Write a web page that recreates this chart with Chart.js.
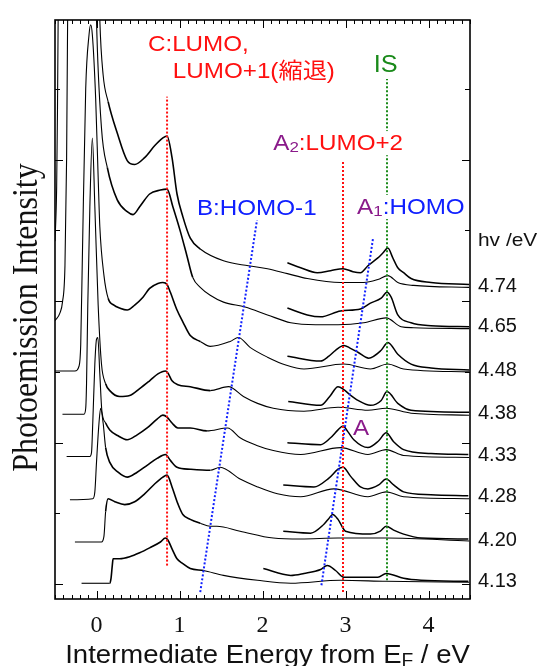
<!DOCTYPE html>
<html lang="ja">
<head>
<meta charset="UTF-8">
<title>2PPE spectra</title>
<style>
  html, body { margin: 0; padding: 0; background: #fff; }
</style>
</head>
<body>
<canvas id="spectra" width="546" height="666"></canvas>
<script src="https://cdn.jsdelivr.net/npm/chart.js@4/dist/chart.umd.min.js"></script>
<script>
// photon energies and the vertical offset each spectrum is stacked at (arb. units)
var hvLabels = ['4.13', '4.20', '4.28', '4.33', '4.38', '4.48', '4.65', '4.74'];
var offsets  = [18, 60, 104, 146, 189, 232, 277, 318];
var xTicks = [0, 1, 2, 3, 4];
var yTicks = [15, 87, 159, 231, 303, 375, 447, 519];

// spectra: [energy from E_F / eV, intensity above offset]
var main413 = [[-0.18,-2],[0.16,-2],[0.175,3],[0.19,16],[0.20,23],[0.28,23],[0.40,25],[0.52,29],[0.64,34],[0.77,40],[0.83,44],[0.86,42],[0.91,33],[0.97,23],[1.04,18],[1.13,13],[1.29,11],[1.53,6],[1.94,1],[2.34,-2],[2.94,1],[3.49,0],[4.49,-1]];
var main420 = [[-0.26,-2],[0.06,-2],[0.09,4],[0.11,29],[0.14,42],[0.22,39],[0.34,36],[0.46,39],[0.58,47],[0.70,57],[0.80,64],[0.85,66],[0.91,54],[0.98,37],[1.04,26],[1.13,21],[1.25,17],[1.37,14],[1.45,14],[1.73,9],[2.13,2],[2.46,1],[2.91,2],[3.49,2],[4.49,-1]];
var main428 = [[-0.32,-3],[-0.045,-2],[-0.02,5],[0.00,35],[0.03,75],[0.05,90],[0.08,75],[0.11,50],[0.16,35],[0.26,25],[0.37,20],[0.49,25],[0.61,32],[0.73,39],[0.83,43],[0.89,37],[0.97,30],[1.13,28],[1.37,27],[1.49,30],[1.73,18],[1.94,10],[2.18,3],[2.46,0],[2.86,8],[3.27,0],[3.49,5],[3.70,0],[4.49,-2]];
var main433 = [[-0.36,-1],[-0.08,-1],[-0.06,3],[-0.045,33],[-0.02,93],[0.00,118],[0.016,120],[0.04,83],[0.064,46],[0.11,33],[0.16,26],[0.26,20],[0.37,16],[0.49,21],[0.61,28],[0.73,37],[0.80,41],[0.85,39],[0.91,33],[0.98,28],[1.13,28],[1.33,25],[1.58,28],[1.73,18],[1.94,10],[2.13,5],[2.46,1],[2.94,8],[3.27,1],[3.49,6],[3.70,0],[4.49,-2]];
var main438 = [[-0.41,-1],[-0.15,-1],[-0.13,5],[-0.12,30],[-0.105,110],[-0.08,210],[-0.05,280],[-0.02,210],[0.02,110],[0.06,50],[0.11,30],[0.16,23],[0.28,17],[0.40,18],[0.52,25],[0.64,33],[0.74,40],[0.83,43],[0.86,41],[0.91,33],[0.98,29],[1.13,27],[1.37,23],[1.59,27],[1.77,17],[1.94,10],[2.13,5],[2.50,2],[2.91,6],[3.27,3],[3.49,5],[3.79,0],[4.49,-2]];
var main448 = [[-0.50,0],[-0.26,0],[-0.21,5],[-0.19,27],[-0.17,117],[-0.13,287],[-0.09,342],[-0.07,352],[-0.05,342],[-0.01,277],[0.02,197],[0.04,147],[0.09,97],[0.14,74],[0.21,67],[0.28,64],[0.37,62],[0.46,67],[0.56,75],[0.64,84],[0.74,89],[0.80,90],[0.85,88],[0.89,80],[0.97,62],[1.04,50],[1.13,36],[1.25,30],[1.37,25],[1.61,30],[1.71,34],[1.85,24],[2.06,14],[2.28,6],[2.50,2],[2.98,7],[3.30,2],[3.51,7],[3.70,2],[4.49,-1]];
var main465 = [[-0.50,6],[-0.44,14],[-0.41,25],[-0.38,62],[-0.36,172],[-0.34,400],[-0.15,1000],[-0.04,500],[0.00,312],[0.06,202],[0.13,162],[0.25,129],[0.37,117],[0.44,114],[0.52,122],[0.64,135],[0.77,139],[0.85,140],[0.92,122],[1.01,97],[1.09,72],[1.16,50],[1.25,40],[1.37,32],[1.53,25],[1.79,20],[2.06,12],[2.34,4],[2.64,2],[2.91,2],[3.22,4],[3.49,9],[3.67,0],[3.82,-1],[4.49,-2]];
var main474 = [[-0.50,46],[-0.48,101],[-0.47,180],[-0.45,400],[-0.20,900],[-0.02,500],[0.04,271],[0.08,215],[0.14,188],[0.25,156],[0.37,128],[0.46,124],[0.58,131],[0.70,143],[0.80,151],[0.85,153],[0.91,131],[0.97,94],[1.04,71],[1.13,49],[1.25,38],[1.53,26],[1.83,21],[2.06,18],[2.30,13],[2.54,8],[2.94,4],[3.22,4],[3.39,7],[3.51,11],[3.63,4],[3.82,1],[4.49,-1]];

// high-energy part recorded with larger gain
var mag413 = [[2.01,13],[2.34,6],[2.50,8],[2.70,12],[2.78,16],[2.88,11],[2.98,4],[3.39,4],[3.49,8],[3.70,3],[3.91,1],[4.48,0]];
var mag420 = [[2.25,9],[2.58,7],[2.74,16],[2.80,22],[2.845,26],[2.91,21],[3.00,9],[3.30,6],[3.42,9],[3.49,14],[3.58,10],[3.70,6],[3.91,2],[4.48,1]];
var mag428 = [[2.25,12],[2.62,10],[2.80,19],[2.91,28],[2.97,30],[3.06,21],[3.18,10],[3.27,8],[3.40,12],[3.49,18],[3.58,12],[3.70,5],[4.03,2],[4.48,1]];
var mag433 = [[2.30,13],[2.70,11],[2.82,18],[2.91,26],[2.97,30],[3.03,24],[3.10,16],[3.27,8],[3.40,15],[3.49,23],[3.58,14],[3.70,6],[4.03,2],[4.48,1]];
var mag438 = [[2.31,12],[2.70,8],[2.81,17],[2.91,27],[2.98,24],[3.05,19],[3.15,13],[3.30,8],[3.43,13],[3.50,22],[3.63,10],[3.79,3],[4.49,1]];
var mag448 = [[2.30,15],[2.70,10],[2.80,15],[2.88,21],[2.98,26],[3.06,23],[3.15,19],[3.28,13],[3.43,21],[3.51,29],[3.63,17],[3.79,7],[4.03,3],[4.49,1]];
var mag465 = [[2.30,19],[2.54,12],[2.70,10],[2.94,16],[3.18,18],[3.30,24],[3.43,29],[3.50,35],[3.55,30],[3.63,12],[3.79,4],[4.03,1],[4.49,0]];
var mag474 = [[2.30,24],[2.46,19],[2.66,14],[2.82,16],[2.97,18],[3.09,15],[3.18,14],[3.27,21],[3.39,29],[3.45,34],[3.51,39],[3.57,29],[3.63,19],[3.70,14],[3.79,8],[4.03,4],[4.49,2]];

// peak-position guides: [energy, intensity] end points
var guideC  = [[0.85, 34], [0.85, 511]];
var guideA2 = [[2.97, 7], [2.97, 446]];
var guideIS = [[3.50, 19], [3.50, 529]];
var guideB  = [[1.25, 7], [1.94, 389]];
var guideA1 = [[2.71, 14], [3.33, 366]];

var mains = [main413, main420, main428, main433, main438, main448, main465, main474];
var mags  = [mag413, mag420, mag428, mag433, mag438, mag448, mag465, mag474];

var SANS = '"Liberation Sans", "Noto Sans CJK JP", sans-serif';
var RED = '#ff1010', BLUE = '#1020ff', GREEN = '#1a8a1a', PURPLE = '#8a1a8a';

function toPts(arr, off) {
  return arr.map(function (p) { return { x: p[0], y: p[1] + off }; });
}

function guide(pts, color) {
  return {
    data: toPts(pts, 0),
    borderColor: color,
    borderWidth: 2,
    borderDash: [2, 2],
    tension: 0
  };
}

var datasets = [
  guide(guideC, RED), guide(guideA2, RED), guide(guideIS, GREEN),
  guide(guideB, BLUE), guide(guideA1, BLUE)
];
mags.forEach(function (s, i) {
  datasets.push({
    data: toPts(s, offsets[i]),
    borderColor: '#000',
    borderWidth: 1.5,
    cubicInterpolationMode: 'monotone'
  });
});
mains.forEach(function (s, i) {
  datasets.push({
    data: toPts(s, offsets[i]),
    borderColor: '#000',
    borderWidth: 1.1,
    cubicInterpolationMode: 'monotone',
    segment: {
      borderWidth: function (c) {
        var x = c.p0.parsed.x;
        return (x > 0.1 && x < 1.15) ? 1.6 : 1.1;
      }
    }
  });
});

// text made of coloured / subscripted pieces, slightly widened
function drawRuns(ctx, x, y, parts, size, clear) {
  ctx.save();
  ctx.translate(x, y);
  ctx.scale(1.1, 1);
  var w = 0;
  parts.forEach(function (p) {
    ctx.font = (p.sub ? size * 0.7 : size) + 'px ' + SANS;
    w += ctx.measureText(p.t).width;
  });
  if (clear) {
    ctx.fillStyle = '#fff';
    ctx.fillRect(-2, -size * 0.85, w + 4, size * 1.1);
  }
  var cx = 0;
  parts.forEach(function (p) {
    var s = p.sub ? size * 0.7 : size;
    ctx.font = s + 'px ' + SANS;
    ctx.fillStyle = p.c || '#111';
    ctx.fillText(p.t, cx, p.sub ? size * 0.12 : 0);
    cx += ctx.measureText(p.t).width;
  });
  ctx.restore();
  return w * 1.1;
}

var frame = {
  id: 'frame',
  afterDatasetsDraw: function (chart) {
    var ctx = chart.ctx, a = chart.chartArea;
    var xs = chart.scales.x, ys = chart.scales.y;
    ctx.save();
    ctx.strokeStyle = '#000';
    ctx.lineWidth = 1.6;
    ctx.strokeRect(a.left, a.top, a.right - a.left, a.bottom - a.top);

    // inward ticks on all four sides
    ctx.lineWidth = 1;
    ctx.beginPath();
    for (var k = -5; k <= 45; k++) {
      var px = Math.round(xs.getPixelForValue(k / 10)) + 0.5;
      var len = (k % 10 === 0) ? 8 : 4;
      ctx.moveTo(px, a.bottom); ctx.lineTo(px, a.bottom - len);
      ctx.moveTo(px, a.top); ctx.lineTo(px, a.top + len);
    }
    yTicks.forEach(function (v, i) {
      var py = Math.round(ys.getPixelForValue(v)) + 0.5;
      var len = (i % 2 === 0) ? 8 : 5;
      ctx.moveTo(a.left, py); ctx.lineTo(a.left + len, py);
      ctx.moveTo(a.right, py); ctx.lineTo(a.right - len, py);
    });
    ctx.stroke();

    // peak assignments
    var X = function (v) { return xs.getPixelForValue(v); };
    var Y = function (v) { return ys.getPixelForValue(v); };
    drawRuns(ctx, X(0.62), Y(557), [{ t: 'C:LUMO,', c: RED }], 22);
    drawRuns(ctx, X(0.92), Y(530), [{ t: 'LUMO+1(縮退)', c: RED }], 22);
    drawRuns(ctx, X(3.34), Y(536), [{ t: 'IS', c: GREEN }], 23);
    drawRuns(ctx, X(2.13), Y(457), [{ t: 'A', c: PURPLE }, { t: '2', c: PURPLE, sub: true }, { t: ':LUMO+2', c: RED }], 22, true);
    drawRuns(ctx, X(1.21), Y(391), [{ t: 'B:HOMO-1', c: BLUE }], 22, true);
    drawRuns(ctx, X(3.14), Y(392), [{ t: 'A', c: PURPLE }, { t: '1', c: PURPLE, sub: true }, { t: ':HOMO', c: BLUE }], 22, true);
    drawRuns(ctx, X(3.09), Y(167), [{ t: 'A', c: PURPLE }], 22);

    drawRuns(ctx, a.right + 8, Y(359), [{ t: 'hv /eV' }], 19);

    // x-axis title with subscript F, centred under the plot
    ctx.save();
    ctx.globalAlpha = 0;
    var tw = drawRuns(ctx, 0, 0, [{ t: 'Intermediate Energy from E' }, { t: 'F', sub: true }, { t: ' / eV' }], 25);
    ctx.restore();
    drawRuns(ctx, (a.left + a.right) / 2 - tw / 2 + 5, 663, [{ t: 'Intermediate Energy from E' }, { t: 'F', sub: true }, { t: ' / eV' }], 25);

    // y-axis title
    ctx.save();
    ctx.translate(37, (a.top + a.bottom) / 2 + 8);
    ctx.scale(1.1, 1);
    ctx.rotate(-Math.PI / 2);
    ctx.font = '32px "Liberation Serif", serif';
    ctx.fillStyle = '#111';
    ctx.textAlign = 'center';
    ctx.fillText('Photoemission Intensity', 0, 0);
    ctx.restore();

    ctx.restore();
  }
};

new Chart(document.getElementById('spectra'), {
  type: 'line',
  data: { datasets: datasets },
  plugins: [frame],
  options: {
    responsive: false,
    animation: false,
    layout: { padding: { top: 10 } },
    elements: { point: { radius: 0 }, line: { borderJoinStyle: 'round' } },
    plugins: { legend: { display: false }, tooltip: { enabled: false } },
    scales: {
      x: {
        type: 'linear', min: -0.5, max: 4.5,
        grid: { display: false, drawTicks: false },
        border: { display: false },
        afterBuildTicks: function (s) { s.ticks = xTicks.map(function (v) { return { value: v }; }); },
        ticks: { font: { family: '"Liberation Serif", serif', size: 24 }, color: '#111', padding: 12, maxRotation: 0 },
        afterFit: function (s) { s.height = 67; }
      },
      y: {
        min: 0, max: 589,
        grid: { display: false, drawTicks: false },
        border: { display: false },
        ticks: { display: false },
        afterFit: function (s) { s.width = 55; }
      },
      y2: {
        position: 'right', min: 0, max: 589,
        grid: { display: false, drawTicks: false },
        border: { display: false },
        afterBuildTicks: function (s) { s.ticks = offsets.map(function (v) { return { value: v }; }); },
        ticks: {
          autoSkip: false, padding: 8, color: '#111',
          font: { family: '"Liberation Sans", sans-serif', size: 20 },
          callback: function (v, i) { return hvLabels[i]; }
        },
        afterFit: function (s) { s.width = 76; }
      }
    }
  }
});
</script>
</body>
</html>
